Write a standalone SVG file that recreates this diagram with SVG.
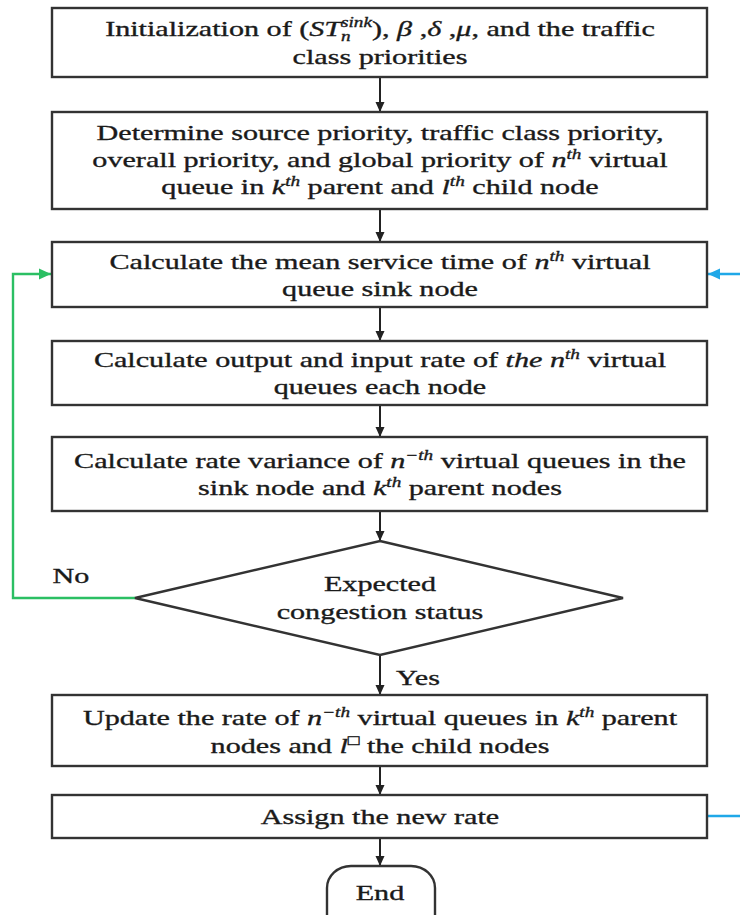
<svg xmlns="http://www.w3.org/2000/svg" width="740" height="915" viewBox="0 0 740 915">
<defs>
<style>
.box{fill:#fff;stroke:#333;stroke-width:2.4}
.t{font-family:"Liberation Serif","Times New Roman",serif;font-size:22px;fill:#1a1a1a;stroke:#1a1a1a;stroke-width:0.35;text-anchor:middle}
.i{font-style:italic}
.s{font-style:italic;font-size:14px}
.k{stroke:#222;stroke-width:2;fill:none}
.g{stroke:#2bbf63;stroke-width:2.4;fill:none}
.b{stroke:#1fa8e8;stroke-width:2.4;fill:none}
</style>
<marker id="ak" markerUnits="userSpaceOnUse" markerWidth="10" markerHeight="10" refX="10" refY="5" orient="auto"><path d="M0,0.5 L10,5 L0,9.5 z" fill="#222"/></marker>
<marker id="ag" markerUnits="userSpaceOnUse" markerWidth="12" markerHeight="12" refX="12" refY="6" orient="auto"><path d="M0,0.5 L12,6 L0,11.5 z" fill="#2bbf63"/></marker>
<marker id="ab" markerUnits="userSpaceOnUse" markerWidth="12" markerHeight="12" refX="12" refY="6" orient="auto"><path d="M0,0.5 L12,6 L0,11.5 z" fill="#1fa8e8"/></marker>
</defs>
<rect width="740" height="915" fill="#fff"/>

<g id="connectors">
<line class="k" x1="380" y1="78" x2="380" y2="112" marker-end="url(#ak)"/>
<line class="k" x1="380" y1="210" x2="380" y2="242" marker-end="url(#ak)"/>
<line class="k" x1="380" y1="308" x2="380" y2="341" marker-end="url(#ak)"/>
<line class="k" x1="380" y1="406" x2="380" y2="437" marker-end="url(#ak)"/>
<line class="k" x1="380" y1="512" x2="380" y2="541" marker-end="url(#ak)"/>
<line class="k" x1="380" y1="655" x2="380" y2="695" marker-end="url(#ak)"/>
<line class="k" x1="380" y1="767" x2="380" y2="795" marker-end="url(#ak)"/>
<line class="k" x1="380" y1="839" x2="380" y2="866" marker-end="url(#ak)"/>
<polyline class="g" points="135,598 13,598 13,274 51,274" marker-end="url(#ag)"/>
<line class="b" x1="742" y1="274" x2="708" y2="274" marker-end="url(#ab)"/>
<line class="b" x1="708" y1="816" x2="742" y2="816"/>
<text class="t" transform="translate(71,0) scale(1.37,1) translate(-71,0)" x="71" y="583">No</text>
<text class="t" transform="translate(418,0) scale(1.37,1) translate(-418,0)" x="418" y="685">Yes</text>
</g>

<g id="n1">
<rect class="box" x="52" y="8" width="655" height="69"/>
<g transform="translate(380,0) scale(1.37,1) translate(-380,0)">
<text class="t" x="380" y="36">Initialization of (<tspan class="i">ST</tspan><tspan class="s" dy="5">n</tspan><tspan class="s" dx="-7" dy="-14">sink</tspan><tspan dy="9">), </tspan><tspan class="i">β</tspan> ,<tspan class="i">δ</tspan> ,<tspan class="i">μ</tspan>, and the traffic</text>
<text class="t" x="380" y="64">class priorities</text>
</g>
</g>

<g id="n2">
<rect class="box" x="52" y="112" width="655" height="97"/>
<g transform="translate(380,0) scale(1.37,1) translate(-380,0)">
<text class="t" x="380" y="140">Determine source priority, traffic class priority,</text>
<text class="t" x="380" y="167">overall priority, and global priority of <tspan class="i">n</tspan><tspan class="s" dy="-8">th</tspan><tspan dy="8"> virtual</tspan></text>
<text class="t" x="380" y="194">queue in <tspan class="i">k</tspan><tspan class="s" dy="-8">th</tspan><tspan dy="8"> parent and </tspan><tspan class="i">l</tspan><tspan class="s" dy="-8">th</tspan><tspan dy="8"> child node</tspan></text>
</g>
</g>

<g id="n3">
<rect class="box" x="52" y="242" width="655" height="65"/>
<g transform="translate(380,0) scale(1.37,1) translate(-380,0)">
<text class="t" x="380" y="269">Calculate the mean service time of <tspan class="i">n</tspan><tspan class="s" dy="-8">th</tspan><tspan dy="8"> virtual</tspan></text>
<text class="t" x="380" y="296">queue sink node</text>
</g>
</g>

<g id="n4">
<rect class="box" x="52" y="341" width="655" height="64"/>
<g transform="translate(380,0) scale(1.37,1) translate(-380,0)">
<text class="t" x="380" y="367">Calculate output and input rate of <tspan class="i">the n</tspan><tspan class="s" dy="-8">th</tspan><tspan dy="8"> virtual</tspan></text>
<text class="t" x="380" y="394">queues each node</text>
</g>
</g>

<g id="n5">
<rect class="box" x="52" y="437" width="655" height="74"/>
<g transform="translate(380,0) scale(1.37,1) translate(-380,0)">
<text class="t" x="380" y="468">Calculate rate variance of <tspan class="i">n</tspan><tspan class="s" dy="-8">−th</tspan><tspan dy="8"> virtual queues in the</tspan></text>
<text class="t" x="380" y="495">sink node and <tspan class="i">k</tspan><tspan class="s" dy="-8">th</tspan><tspan dy="8"> parent nodes</tspan></text>
</g>
</g>

<g id="n6">
<polygon class="box" points="380,541 623,598 380,655 135,598" stroke-width="2"/>
<g transform="translate(380,0) scale(1.37,1) translate(-380,0)">
<text class="t" x="380" y="591">Expected</text>
<text class="t" x="380" y="619">congestion status</text>
</g>
</g>

<g id="n7">
<rect class="box" x="52" y="695" width="655" height="71"/>
<g transform="translate(380,0) scale(1.37,1) translate(-380,0)">
<text class="t" x="380" y="725">Update the rate of <tspan class="i">n</tspan><tspan class="s" dy="-8">−th</tspan><tspan dy="8"> virtual queues in </tspan><tspan class="i">k</tspan><tspan class="s" dy="-8">th</tspan><tspan dy="8"> parent</tspan></text>
<text class="t" x="380" y="753">nodes and <tspan class="i">l</tspan><tspan class="s" dy="-8">□</tspan><tspan dy="8"> the child nodes</tspan></text>
</g>
</g>

<g id="n8">
<rect class="box" x="52" y="795" width="655" height="43"/>
<g transform="translate(380,0) scale(1.37,1) translate(-380,0)">
<text class="t" x="380" y="824">Assign the new rate</text>
</g>
</g>

<g id="n9">
<rect class="box" x="327" y="866" width="108" height="80" rx="24" ry="22" stroke-width="2"/>
<g transform="translate(380,0) scale(1.37,1) translate(-380,0)">
<text class="t" x="380" y="900">End</text>
</g>
</g>
</svg>
